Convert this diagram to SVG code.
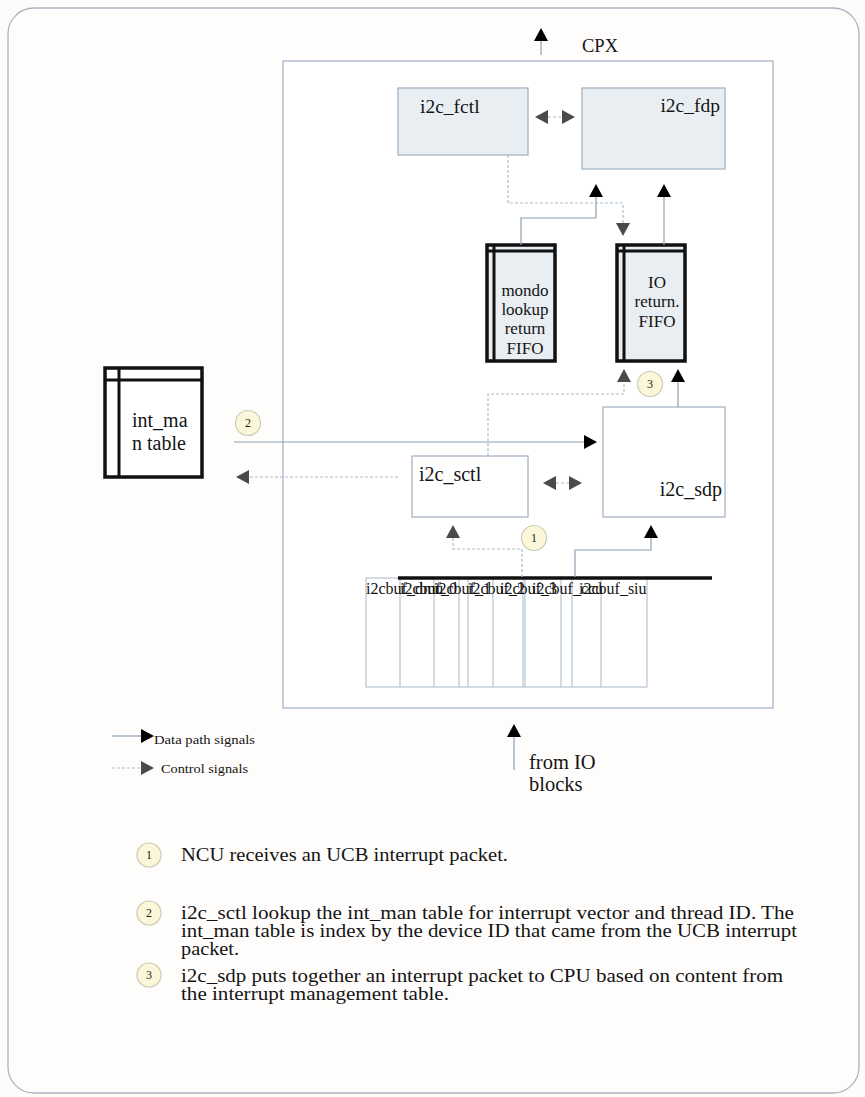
<svg xmlns="http://www.w3.org/2000/svg" width="865" height="1097" viewBox="0 0 865 1097" font-family="'Liberation Serif', 'Times New Roman', 'DejaVu Serif', serif">
<style>
  text { font-family: "Liberation Serif", "Times New Roman", "DejaVu Serif", serif; fill: #141414; }
  .box { fill: #ffffff; stroke: #9fb0c2; stroke-width: 1.2; }
  .shade { fill: #e9eef2; stroke: #9fb0c2; stroke-width: 1.2; }
  .fifo { fill: #e8eef2; stroke: #111; stroke-width: 3.5; }
  .fifoline { stroke: #111; stroke-width: 3; fill: none; }
  .data { fill: none; stroke: #8da0b3; stroke-width: 1.2; }
  .ctrl { fill: none; stroke: #a9bdd0; stroke-width: 1.2; stroke-dasharray: 3 2; }
  .num { fill: #fcf7da; stroke: #c9ccb3; stroke-width: 1.2; }
  .numtxt { font-size: 12px; fill: #222; text-anchor: middle; }
  .cell { fill: none; stroke: #a9b8c8; stroke-width: 1; }
</style>
<defs>
  <marker id="dA" markerUnits="userSpaceOnUse" markerWidth="14" markerHeight="14" viewBox="0 0 13 14" refX="0" refY="7" orient="auto-start-reverse">
    <path d="M0,0 L13,7 L0,14 z" fill="#000"/>
  </marker>
  <marker id="cA" markerUnits="userSpaceOnUse" markerWidth="14" markerHeight="14" viewBox="0 0 13 14" refX="0" refY="7" orient="auto-start-reverse">
    <path d="M0,0 L13,7 L0,14 z" fill="#4a4a4a"/>
  </marker>
</defs>
<rect x="0" y="0" width="865" height="1097" fill="#fefcfb"/>
<rect id="frame" x="8" y="8" width="851" height="1085" rx="26" ry="26" fill="#fffdfc" stroke="#aab4c0" stroke-width="1.3"/>

<g id="ncu">
  <rect x="283" y="61" width="490" height="647" class="box"/>
</g>

<g id="i2c_fctl">
  <rect x="398" y="88" width="130" height="67" class="shade"/>
  <text x="420" y="113" font-size="19.5">i2c_fctl</text>
</g>
<g id="i2c_fdp">
  <rect x="582" y="88" width="143" height="81" class="shade"/>
  <text x="720" y="112" font-size="19.5" text-anchor="end">i2c_fdp</text>
</g>

<g id="mondo_fifo">
  <rect x="487" y="245" width="68" height="116" class="fifo"/>
  <line x1="487" y1="251" x2="555" y2="251" class="fifoline"/>
  <line x1="494" y1="245" x2="494" y2="361" class="fifoline"/>
  <g font-size="17" text-anchor="middle">
    <text x="525" y="296">mondo</text>
    <text x="525" y="315">lookup</text>
    <text x="525" y="334">return</text>
    <text x="525" y="354">FIFO</text>
  </g>
</g>

<g id="io_fifo">
  <rect x="617" y="245" width="68" height="116" class="fifo"/>
  <line x1="617" y1="251" x2="685" y2="251" class="fifoline"/>
  <line x1="624" y1="245" x2="624" y2="361" class="fifoline"/>
  <g font-size="17" text-anchor="middle">
    <text x="657" y="288">IO</text>
    <text x="657" y="307">return.</text>
    <text x="657" y="327">FIFO</text>
  </g>
</g>

<g id="int_man">
  <rect x="105" y="368" width="97" height="109" fill="#ffffff" stroke="#111" stroke-width="3.5"/>
  <line x1="105" y1="380" x2="202" y2="380" class="fifoline"/>
  <line x1="119" y1="368" x2="119" y2="477" class="fifoline"/>
  <text x="132" y="427" font-size="20">int_ma</text>
  <text x="132" y="450" font-size="20">n table</text>
</g>

<g id="i2c_sctl">
  <rect x="412" y="456" width="116" height="61" class="box"/>
  <text x="419" y="481" font-size="20">i2c_sctl</text>
</g>
<g id="i2c_sdp">
  <rect x="603" y="407" width="122" height="110" class="box"/>
  <text x="722" y="496" font-size="20" text-anchor="end">i2c_sdp</text>
</g>

<g id="i2cbufs">
  <rect x="366" y="578" width="281" height="109" class="cell"/>
  <line x1="400" y1="578" x2="400" y2="687" class="cell"/>
  <line x1="434" y1="578" x2="434" y2="687" class="cell"/>
  <line x1="459" y1="578" x2="459" y2="687" class="cell"/>
  <line x1="468" y1="578" x2="468" y2="687" class="cell"/>
  <line x1="493" y1="578" x2="493" y2="687" class="cell"/>
  <line x1="523" y1="578" x2="523" y2="687" class="cell"/>
  <line x1="525" y1="578" x2="525" y2="687" class="cell"/>
  <line x1="561" y1="578" x2="561" y2="687" class="cell"/>
  <line x1="572" y1="578" x2="572" y2="687" class="cell"/>
  <line x1="601" y1="578" x2="601" y2="687" class="cell"/>
  <g font-size="16">
    <text x="366" y="594">i2cbuf_dmu</text>
    <text x="400" y="594">i2cbuf_0</text>
    <text x="434" y="594">i2cbuf_1</text>
    <text x="468" y="594">i2cbuf_2</text>
    <text x="500" y="594">i2cbuf_3</text>
    <text x="532" y="594">i2cbuf_ccu</text>
    <text x="579" y="594">i2cbuf_siu</text>
  </g>
  <line x1="398" y1="578" x2="712" y2="578" stroke="#111" stroke-width="3.5"/>
</g>

<g id="connectors">
  <path d="M541,55 V41" class="data" marker-end="url(#dA)"/>
  <path d="M548,117 H562" class="ctrl" marker-start="url(#cA)" marker-end="url(#cA)"/>
  <path d="M508,155 V203 H623 V223" class="ctrl" marker-end="url(#cA)"/>
  <path d="M521,245 V218 H596 V197" class="data" marker-end="url(#dA)"/>
  <path d="M664,245 V197" class="data" marker-end="url(#dA)"/>
  <path d="M678,407 V382" class="data" marker-end="url(#dA)"/>
  <path d="M488,456 V394 H624 V382" class="ctrl" marker-end="url(#cA)"/>
  <path d="M234,442 H584" class="data" marker-end="url(#dA)"/>
  <path d="M398,477 H249" class="ctrl" marker-end="url(#cA)"/>
  <path d="M556,483 H569" class="ctrl" marker-start="url(#cA)" marker-end="url(#cA)"/>
  <path d="M522,577 V549 H453 V538" class="ctrl" marker-end="url(#cA)"/>
  <path d="M575,577 V550 H651 V538" class="data" marker-end="url(#dA)"/>
  <path d="M514,770 V737" class="data" marker-end="url(#dA)"/>
  <path d="M112,736 H141" class="data" marker-end="url(#dA)"/>
  <path d="M112,768 H141" class="ctrl" marker-end="url(#cA)"/>
</g>

<g id="labels">
  <text x="582" y="52" font-size="18.5">CPX</text>
  <text x="154" y="744" font-size="13.5" textLength="101" lengthAdjust="spacingAndGlyphs">Data path signals</text>
  <text x="161" y="773" font-size="13.5" textLength="87" lengthAdjust="spacingAndGlyphs">Control signals</text>
  <text x="529" y="769" font-size="20.5">from IO</text>
  <text x="529" y="791" font-size="20.5">blocks</text>
</g>

<g id="markers_num">
  <circle cx="534" cy="538" r="12.5" class="num"/><text x="534" y="542" class="numtxt">1</text>
  <circle cx="248" cy="423" r="12.5" class="num"/><text x="248" y="427" class="numtxt">2</text>
  <circle cx="650" cy="384" r="12.5" class="num"/><text x="650" y="388" class="numtxt">3</text>
</g>

<g id="notes" font-size="18.5">
  <circle cx="149" cy="855" r="12" class="num"/><text x="149" y="859" class="numtxt">1</text>
  <text x="181" y="861" textLength="327" lengthAdjust="spacingAndGlyphs">NCU receives an UCB interrupt packet.</text>
  <circle cx="149" cy="913" r="12" class="num"/><text x="149" y="917" class="numtxt">2</text>
  <text x="181" y="919" textLength="613" lengthAdjust="spacingAndGlyphs">i2c_sctl lookup the int_man table for interrupt vector and thread ID. The</text>
  <text x="181" y="937" textLength="616" lengthAdjust="spacingAndGlyphs">int_man table is index by the device ID that came from the UCB interrupt</text>
  <text x="181" y="955" textLength="58" lengthAdjust="spacingAndGlyphs">packet.</text>
  <circle cx="149" cy="975" r="12" class="num"/><text x="149" y="979" class="numtxt">3</text>
  <text x="181" y="982" textLength="602" lengthAdjust="spacingAndGlyphs">i2c_sdp puts together an interrupt packet to CPU based on content from</text>
  <text x="181" y="1000" textLength="268" lengthAdjust="spacingAndGlyphs">the interrupt management table.</text>
</g>
</svg>
